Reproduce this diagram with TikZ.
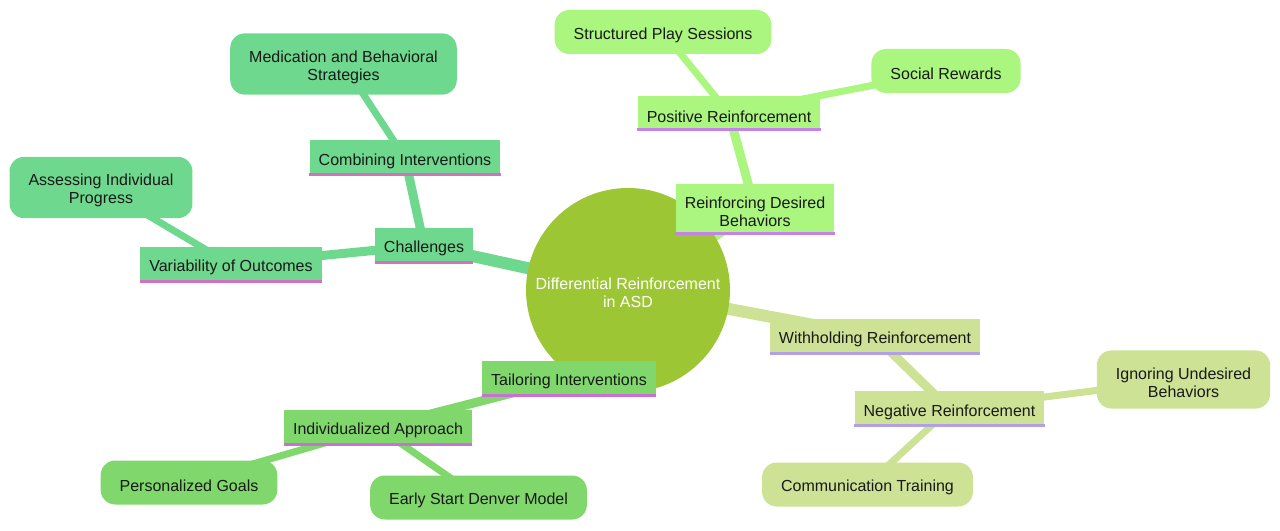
\documentclass[tikz,border=0pt]{standalone}
\usepackage{fontspec}
\setmainfont{Liberation Sans}
\usetikzlibrary{backgrounds}
\definecolor{rootgreen}{RGB}{157,198,52}
\definecolor{brA}{RGB}{170,246,126}
\definecolor{brB}{RGB}{205,226,148}
\definecolor{brC}{RGB}{128,216,108}
\definecolor{brD}{RGB}{110,216,142}
\definecolor{ulA}{RGB}{198,130,232}
\definecolor{ulB}{RGB}{178,160,228}
\definecolor{ulC}{RGB}{200,112,212}
\definecolor{ulD}{RGB}{212,112,192}
\begin{document}
\begin{tikzpicture}[x=0.75pt,y=-0.75pt,line cap=round,line join=round]
	\tikzset{every node/.style={font=\fontsize{12}{13.5}\selectfont,text=black!90,align=center,
			execute at begin node={\rule{0pt}{13.2pt}}},
		twoline/.style={execute at begin node={\rule{0pt}{26.7pt}}},
		sub/.style={fill=#1,inner xsep=6.75pt,inner ysep=5.6pt,minimum height=26.25pt},
		leaf/.style={fill=#1,rounded corners=11pt,inner xsep=14.25pt,inner ysep=8.4pt,minimum height=33pt},
		link/.style={draw=#1,line width=5.25pt}}
	\useasboundingbox (0,0) rectangle (1280,531);
	% root
	\node[circle,twoline,fill=rootgreen,text=white,minimum size=153pt,inner sep=0pt] (root) at (628,290) {Differential Reinforcement\\in ASD};
	% reinforcing branch
	\node[sub=brA,twoline] (rdb) at (755,209) {Reinforcing Desired\\Behaviors};
	\node[sub=brA] (pos) at (729,113.5) {Positive Reinforcement};
	\node[leaf=brA] (sps) at (663,32) {Structured Play Sessions};
	\node[leaf=brA] (soc) at (946,71) {Social Rewards};
	% withholding branch
	\node[sub=brB] (wit) at (875,336.5) {Withholding Reinforcement};
	\node[sub=brB] (neg) at (949.5,409) {Negative Reinforcement};
	\node[leaf=brB,twoline] (ign) at (1183.5,379.5) {Ignoring Undesired\\Behaviors};
	\node[leaf=brB] (cot) at (867.5,484.5) {Communication Training};
	% tailoring branch
	\node[sub=brC] (tai) at (569,378.5) {Tailoring Interventions};
	\node[sub=brC] (ind) at (378,427.5) {Individualized Approach};
	\node[leaf=brC] (per) at (189,482.5) {Personalized Goals};
	\node[leaf=brC] (esd) at (478.5,497.5) {Early Start Denver Model};
	% challenges branch
	\node[sub=brD] (cha) at (424,245.5) {Challenges};
	\node[sub=brD] (var) at (231,264.5) {Variability of Outcomes};
	\node[leaf=brD,twoline] (ass) at (101,187.5) {Assessing Individual\\Progress};
	\node[sub=brD] (cmb) at (405,158) {Combining Interventions};
	\node[leaf=brD,twoline] (med) at (343.5,64) {Medication and Behavioral\\Strategies};
	% underlines
	\foreach \n/\c in {rdb/ulA,pos/ulA,wit/ulB,neg/ulB,tai/ulC,ind/ulC,cha/ulD,var/ulD,cmb/ulD}
		\draw[\c,line width=2.25pt,line cap=butt] ([yshift=1.1pt]\n.south west)--([yshift=1.1pt]\n.south east);
	\begin{pgfonlayer}{background}
		\draw[link=brA,line width=9pt] (root.center)--(rdb.center);
		\draw[link=brB,line width=9pt] (root.center)--(wit.center);
		\draw[link=brC,line width=9pt] (root.center)--(tai.center);
		\draw[link=brD,line width=9pt] (root.center)--(cha.center);
		\draw[link=brA,line width=6.75pt] (rdb.center)--(pos.center);
		\draw[link=brB,line width=6.75pt] (wit.center)--(neg.center);
		\draw[link=brC,line width=6.75pt] (tai.center)--(ind.center);
		\draw[link=brD,line width=6.75pt] (cha.center)--(var.center) (cha.center)--(cmb.center);
		\draw[link=brA] (pos.center)--(sps.center) (pos.center)--(soc.center);
		\draw[link=brB] (neg.center)--(ign.center) (neg.center)--(cot.center);
		\draw[link=brC] (ind.center)--(per.center) (ind.center)--(esd.center);
		\draw[link=brD] (var.center)--(ass.center) (cmb.center)--(med.center);
	\end{pgfonlayer}
\end{tikzpicture}
\end{document}
